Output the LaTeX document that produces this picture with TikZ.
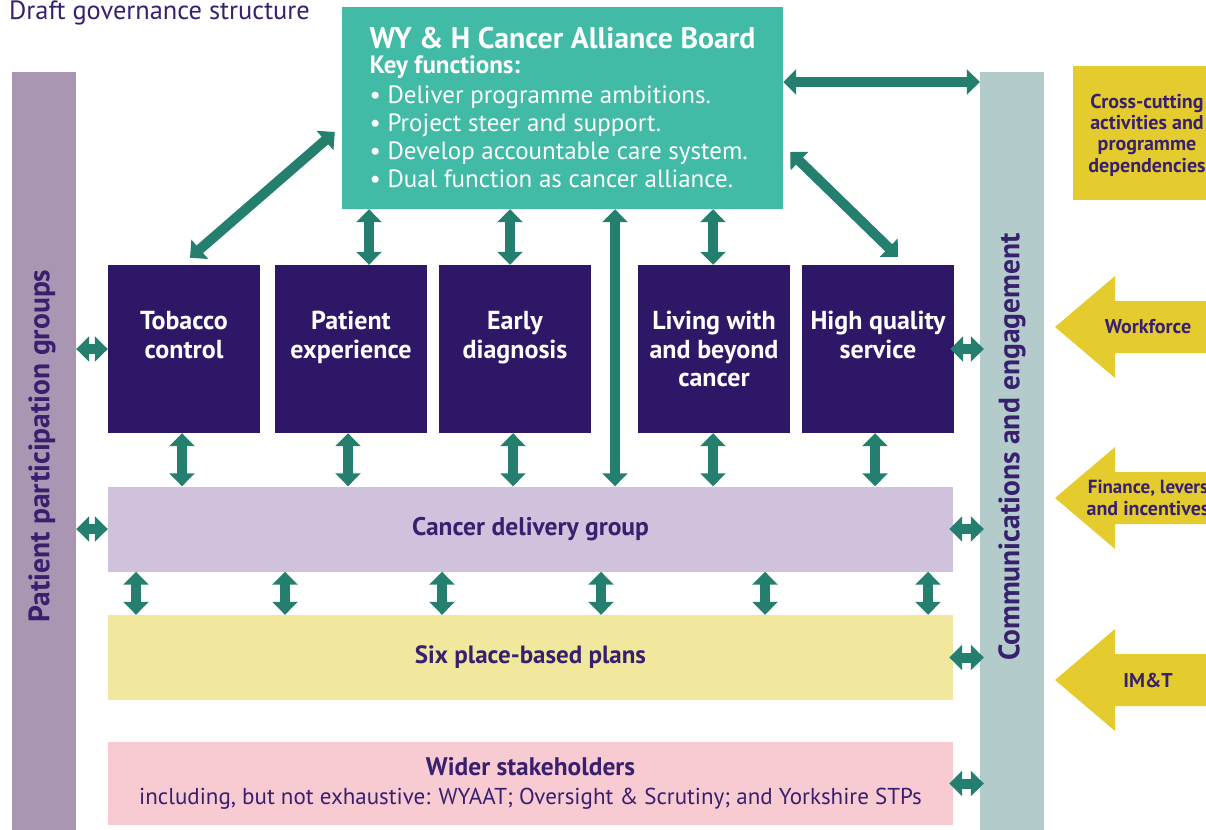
\documentclass[tikz,border=0pt]{standalone}
\usepackage{fontspec}
\setmainfont{PT Sans}
\usepackage{tikz}
\usetikzlibrary{positioning, arrows.meta, calc}
\newcommand{\fsz}[2]{\fontsize{#1pt}{#2pt}\selectfont}
\definecolor{boardteal}{HTML}{41BBA6}
\definecolor{linkteal}{HTML}{247F6E}
\definecolor{deeppurple}{HTML}{2F1768}
\definecolor{inkpurple}{HTML}{38206E}
\definecolor{ppgbar}{HTML}{A996B3}
\definecolor{commsbar}{HTML}{B3CCCB}
\definecolor{deliveryfill}{HTML}{D0C1DD}
\definecolor{plansfill}{HTML}{F2E89D}
\definecolor{widerfill}{HTML}{F8CAD2}
\definecolor{crossyellow}{HTML}{E5CC2E}

\begin{document}
\begin{tikzpicture}[x=1pt, y=-1pt,
  workbox/.style={rectangle, fill=deeppurple, text=white, minimum width=152pt, minimum height=168pt, align=center, font=\fsz{26}{28.5}\bfseries, inner sep=0pt},
  band/.style={rectangle, minimum width=845pt, minimum height=85pt, align=center, text=inkpurple, inner sep=0pt},
  sidebar/.style={rectangle, minimum width=64pt, minimum height=780pt, inner sep=0pt},
  barlabel/.style={rotate=90, text=inkpurple, font=\fsz{29.5}{32}\bfseries},
  link/.style={linkteal, line width=10pt, {Triangle[length=13pt,width=25pt]}-{Triangle[length=13pt,width=25pt]}},
  crosslbl/.style={text=inkpurple, font=\fsz{20}{21.3}\bfseries, align=center, inner sep=0pt}
]
\useasboundingbox (0,0) rectangle (1206,829);
\clip (0,0) rectangle (1206,829);

\node[anchor=west, text=inkpurple, font=\fsz{26.4}{30}, inner sep=0pt] (title) at (9,13) {Draft governance structure};

% ===== Side bars =====
\node[sidebar, fill=ppgbar, anchor=north] (ppg) at (44,72) {};
\node[sidebar, fill=commsbar, anchor=north] (comms) at (1012,72) {};
\node[barlabel] at (42,446) {Patient participation groups};
\node[barlabel] at (1012,447) {Communications and engagement};

% ===== Board =====
\node[rectangle, fill=boardteal, text=white, minimum width=441pt, minimum height=202pt, align=left, inner sep=0pt, font=\fsz{25}{28}] (board) at (562.5,108)
  {{\fsz{29.8}{28}\bfseries WY \& H Cancer Alliance Board}\\[-3pt]
   {\fsz{25}{28}\bfseries Key functions:}\\[2pt]
   \textbullet\ Deliver programme ambitions.\\
   \textbullet\ Project steer and support.\\
   \textbullet\ Develop accountable care system.\\
   \textbullet\ Dual function as cancer alliance.};

% ===== Workstreams =====
\node[workbox] (tc) at (184,349) {Tobacco\\control\\\mbox{}};
\node[workbox] (pe) at (351,349) {Patient\\experience\\\mbox{}};
\node[workbox] (ed) at (515,349) {Early\\diagnosis\\\mbox{}};
\node[workbox] (lw) at (714,349) {Living with\\and beyond\\cancer};
\node[workbox] (hq) at (878,349) {High quality\\service\\\mbox{}};

% ===== Bands =====
\node[band, fill=deliveryfill, font=\fsz{25.5}{28}\bfseries] (cdg) at (530.5,529) {Cancer delivery group};
\node[band, fill=plansfill, font=\fsz{25}{28}\bfseries] (spp) at (530.5,657.5) {Six place-based plans};
\node[band, fill=widerfill, minimum height=83pt, font=\fsz{23}{29}] (wsh) at (530.5,783.5)
  {{\fsz{25.4}{29}\bfseries Wider stakeholders}\\including, but not exhaustive: WYAAT; Oversight \& Scrutiny; and Yorkshire STPs};

% ===== Cross-cutting activities =====
\node[rectangle, fill=crossyellow, anchor=north west, minimum width=150pt, minimum height=134pt, inner sep=0pt] (xcut) at (1073,66) {};
\node[crosslbl] at (1147,135) {Cross-cutting\\activities and\\programme\\dependencies};
\foreach \y/\n/\t in {327/wf/Workforce, 498/fin/{\fsz{19}{21.3}\bfseries Finance, levers\\and incentives}, 680/imt/IM\&T}{
  \fill[crossyellow] (1055,\y) -- (1115,\y-51) -- (1115,\y-26) -- (1230,\y-26)
    -- (1230,\y+26) -- (1115,\y+26) -- (1115,\y+51) -- cycle;
  \node[crosslbl] (\n) at (1148,\y) {\t};
}

% ===== Links =====
\path ($(board.east)+(0,-26)$) coordinate (bc);
\draw[link] (bc) -- (bc -| comms.west);
\draw[link] ([xshift=-7pt,yshift=-24pt]board.west) -- ([xshift=6pt,yshift=7pt]tc.north);
\draw[link] ([xshift=7pt,yshift=-44pt]board.east) -- ([xshift=20pt,yshift=8pt]hq.north);
\foreach \bx/\n in {369/pe, 510/ed, 713/lw}
  \draw[link] (\bx,0 |- board.south) -- (\bx,0 |- \n.north);
\draw[link] (615,0 |- board.south) -- (615,0 |- cdg.north);
\foreach \bx/\n in {182/tc, 348/pe, 513/ed, 713/lw, 875/hq}
  \draw[link] (\bx,0 |- \n.south) -- (\bx,0 |- cdg.north);
\foreach \bx in {136, 285, 442, 601, 765, 928}
  \draw[link] (\bx,0 |- cdg.south) -- (\bx,0 |- spp.north);
\draw[link] (ppg.east |- tc.west) -- (tc.west);
\draw[link] (ppg.east |- cdg.west) -- (cdg.west);
\foreach \n in {hq, cdg, spp, wsh}
  \draw[link] ([xshift=-4pt]\n.east) -- ([xshift=4pt]comms.west |- \n.east);

\end{tikzpicture}
\end{document}
